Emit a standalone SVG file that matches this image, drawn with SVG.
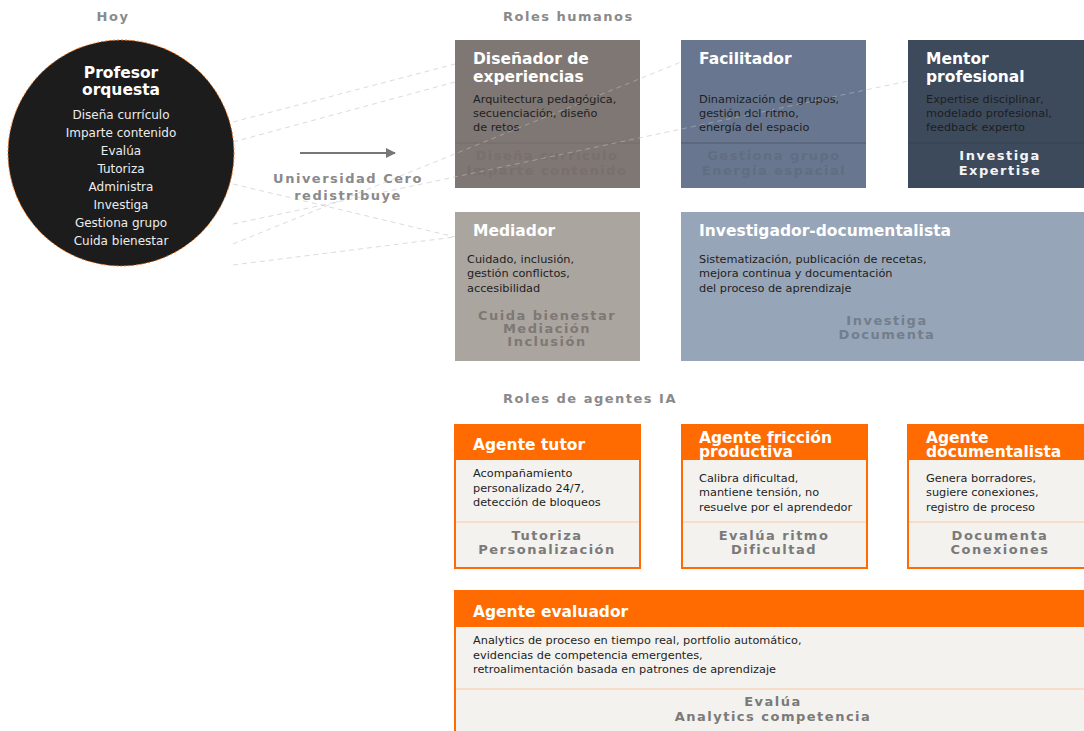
<svg xmlns="http://www.w3.org/2000/svg" width="1084" height="731" viewBox="0 0 1084 731">
  <style>
    text { font-family: "DejaVu Sans", "Liberation Sans", sans-serif; }
    .sec { font-size: 13px; font-weight: bold; fill: #8a8a8a; letter-spacing: 1.5px; }
    .title { font-size: 15.5px; font-weight: bold; fill: #ffffff; }
    .desc { font-size: 11.3px; fill: #1e1e1e; }
    .tag { font-size: 13px; font-weight: bold; letter-spacing: 1.5px; text-anchor: middle; }
    .item { font-size: 12px; fill: #ececec; text-anchor: middle; }
    .link { stroke: #bdbdbd; stroke-width: 1; stroke-dasharray: 5 4; fill: none; opacity: 0.55; }
    .agent-frame { fill: #f3f2ee; stroke: #ff6b00; stroke-width: 2; }
    .agent-head { fill: #ff6b00; }
    .agent-rule { stroke: #fcc9a5; stroke-width: 1; }
    .agent-tag { fill: #7a7a7a; }
  </style>
  <defs>
    <marker id="arrowhead" markerWidth="10" markerHeight="10" refX="9" refY="5" orient="auto" markerUnits="userSpaceOnUse">
      <path d="M0,0 L10,5 L0,10 Z" fill="#777777"/>
    </marker>
  </defs>

  <rect width="1084" height="731" fill="#ffffff"/>

  <!-- section headings -->
  <text class="sec" x="113" y="21" text-anchor="middle">Hoy</text>
  <text class="sec" x="503" y="21">Roles humanos</text>
  <text class="sec" x="503" y="403">Roles de agentes IA</text>

  <!-- today: the one-person teacher -->
  <g id="profesor-orquesta">
    <circle cx="121" cy="153" r="113" fill="#1c1c1c" stroke="#ff6b00" stroke-width="1" stroke-dasharray="2 2"/>
    <text class="title" x="121" y="78" text-anchor="middle" font-size="16px">Profesor</text>
    <text class="title" x="121" y="95" text-anchor="middle" font-size="16px">orquesta</text>
    <text class="item" x="121" y="119">Diseña currículo</text>
    <text class="item" x="121" y="137">Imparte contenido</text>
    <text class="item" x="121" y="155">Evalúa</text>
    <text class="item" x="121" y="173">Tutoriza</text>
    <text class="item" x="121" y="191">Administra</text>
    <text class="item" x="121" y="209">Investiga</text>
    <text class="item" x="121" y="227">Gestiona grupo</text>
    <text class="item" x="121" y="245">Cuida bienestar</text>
  </g>

  <!-- redistribution arrow -->
  <g id="redistribucion">
    <line x1="300" y1="153" x2="395" y2="153" stroke="#777777" stroke-width="2" marker-end="url(#arrowhead)"/>
    <text class="sec" x="348" y="183" text-anchor="middle">Universidad Cero</text>
    <text class="sec" x="348" y="200" text-anchor="middle">redistribuye</text>
  </g>

  <!-- human roles -->
  <g id="disenador">
    <rect x="455" y="40" width="185" height="148" fill="#7f7773"/>
    <line x1="455" y1="143" x2="640" y2="143" stroke="#746c68"/>
    <text class="title" x="473" y="64">Diseñador de</text>
    <text class="title" x="473" y="82">experiencias</text>
    <text class="desc" x="473" y="103">Arquitectura pedagógica,</text>
    <text class="desc" x="473" y="117">secuenciación, diseño</text>
    <text class="desc" x="473" y="131">de retos</text>
    <text class="tag" x="547" y="160" fill="#78706c">Diseña currículo</text>
    <text class="tag" x="547" y="175" fill="#78706c">Imparte contenido</text>
  </g>

  <g id="facilitador">
    <rect x="681" y="40" width="185" height="148" fill="#68778f"/>
    <line x1="681" y1="143" x2="866" y2="143" stroke="#4f5b6d"/>
    <text class="title" x="699" y="64">Facilitador</text>
    <text class="desc" x="699" y="103">Dinamización de grupos,</text>
    <text class="desc" x="699" y="117">gestión del ritmo,</text>
    <text class="desc" x="699" y="131">energía del espacio</text>
    <text class="tag" x="774" y="160" fill="#616d82">Gestiona grupo</text>
    <text class="tag" x="774" y="175" fill="#616d82">Energía espacial</text>
  </g>

  <g id="mentor">
    <rect x="908" y="40" width="185" height="148" fill="#3c4a5c"/>
    <line x1="908" y1="143" x2="1093" y2="143" stroke="#33404f"/>
    <text class="title" x="926" y="64">Mentor</text>
    <text class="title" x="926" y="82">profesional</text>
    <text class="desc" x="926" y="103" fill="#e4e6ea">Expertise disciplinar,</text>
    <text class="desc" x="926" y="117" fill="#e4e6ea">modelado profesional,</text>
    <text class="desc" x="926" y="131" fill="#e4e6ea">feedback experto</text>
    <text class="tag" x="1000" y="160" fill="#f4f4f4">Investiga</text>
    <text class="tag" x="1000" y="175" fill="#f4f4f4">Expertise</text>
  </g>

  <g id="mediador">
    <rect x="455" y="212" width="185" height="149" fill="#aba5a0"/>
    <text class="title" x="473" y="236">Mediador</text>
    <text class="desc" x="467" y="263">Cuidado, inclusión,</text>
    <text class="desc" x="467" y="277">gestión conflictos,</text>
    <text class="desc" x="467" y="292">accesibilidad</text>
    <text class="tag" x="547" y="320" fill="#7e7874">Cuida bienestar</text>
    <text class="tag" x="547" y="333" fill="#7e7874">Mediación</text>
    <text class="tag" x="547" y="346" fill="#7e7874">Inclusión</text>
  </g>

  <g id="investigador">
    <rect x="681" y="212" width="412" height="149" fill="#97a5b8"/>
    <text class="title" x="699" y="236">Investigador-documentalista</text>
    <text class="desc" x="699" y="263">Sistematización, publicación de recetas,</text>
    <text class="desc" x="699" y="277">mejora continua y documentación</text>
    <text class="desc" x="699" y="292">del proceso de aprendizaje</text>
    <text class="tag" x="887" y="325" fill="#737e8c">Investiga</text>
    <text class="tag" x="887" y="339" fill="#737e8c">Documenta</text>
  </g>

  <!-- AI agent roles -->
  <g id="agente-tutor">
    <rect class="agent-frame" x="455" y="425" width="185" height="143"/>
    <rect class="agent-head" x="454" y="424" width="187" height="36"/>
    <line class="agent-rule" x1="456" y1="522" x2="639" y2="522"/>
    <text class="title" x="473" y="450">Agente tutor</text>
    <text class="desc" x="473" y="477">Acompañamiento</text>
    <text class="desc" x="473" y="492">personalizado 24/7,</text>
    <text class="desc" x="473" y="506">detección de bloqueos</text>
    <text class="tag agent-tag" x="547" y="540">Tutoriza</text>
    <text class="tag agent-tag" x="547" y="554">Personalización</text>
  </g>

  <g id="agente-friccion">
    <rect class="agent-frame" x="682" y="425" width="185" height="143"/>
    <rect class="agent-head" x="681" y="424" width="187" height="36"/>
    <line class="agent-rule" x1="683" y1="522" x2="866" y2="522"/>
    <text class="title" x="699" y="443">Agente fricción</text>
    <text class="title" x="699" y="457">productiva</text>
    <text class="desc" x="699" y="482">Calibra dificultad,</text>
    <text class="desc" x="699" y="496">mantiene tensión, no</text>
    <text class="desc" x="699" y="511">resuelve por el aprendedor</text>
    <text class="tag agent-tag" x="774" y="540">Evalúa ritmo</text>
    <text class="tag agent-tag" x="774" y="554">Dificultad</text>
  </g>

  <g id="agente-documentalista">
    <rect class="agent-frame" x="908" y="425" width="185" height="143"/>
    <rect class="agent-head" x="907" y="424" width="187" height="36"/>
    <line class="agent-rule" x1="909" y1="522" x2="1092" y2="522"/>
    <text class="title" x="926" y="443">Agente</text>
    <text class="title" x="926" y="457">documentalista</text>
    <text class="desc" x="926" y="482">Genera borradores,</text>
    <text class="desc" x="926" y="496">sugiere conexiones,</text>
    <text class="desc" x="926" y="511">registro de proceso</text>
    <text class="tag agent-tag" x="1000" y="540">Documenta</text>
    <text class="tag agent-tag" x="1000" y="554">Conexiones</text>
  </g>

  <g id="agente-evaluador">
    <rect class="agent-frame" x="455" y="591" width="638" height="150"/>
    <rect class="agent-head" x="454" y="590" width="640" height="37"/>
    <line class="agent-rule" x1="456" y1="689" x2="1092" y2="689"/>
    <text class="title" x="473" y="617">Agente evaluador</text>
    <text class="desc" x="473" y="644">Analytics de proceso en tiempo real, portfolio automático,</text>
    <text class="desc" x="473" y="659">evidencias de competencia emergentes,</text>
    <text class="desc" x="473" y="673">retroalimentación basada en patrones de aprendizaje</text>
    <text class="tag agent-tag" x="773" y="706">Evalúa</text>
    <text class="tag agent-tag" x="773" y="721">Analytics competencia</text>
  </g>

  <!-- connectors: each task of the circle to the role that takes it over -->
  <g id="connectors">
    <line class="link" x1="233" y1="122" x2="455" y2="64"/>
    <line class="link" x1="233" y1="142" x2="455" y2="82"/>
    <line class="link" x1="233" y1="184" x2="455" y2="237"/>
    <line class="link" x1="233" y1="224" x2="908" y2="81"/>
    <line class="link" x1="233" y1="244" x2="681" y2="62"/>
    <line class="link" x1="233" y1="265" x2="455" y2="237"/>
  </g>
</svg>
